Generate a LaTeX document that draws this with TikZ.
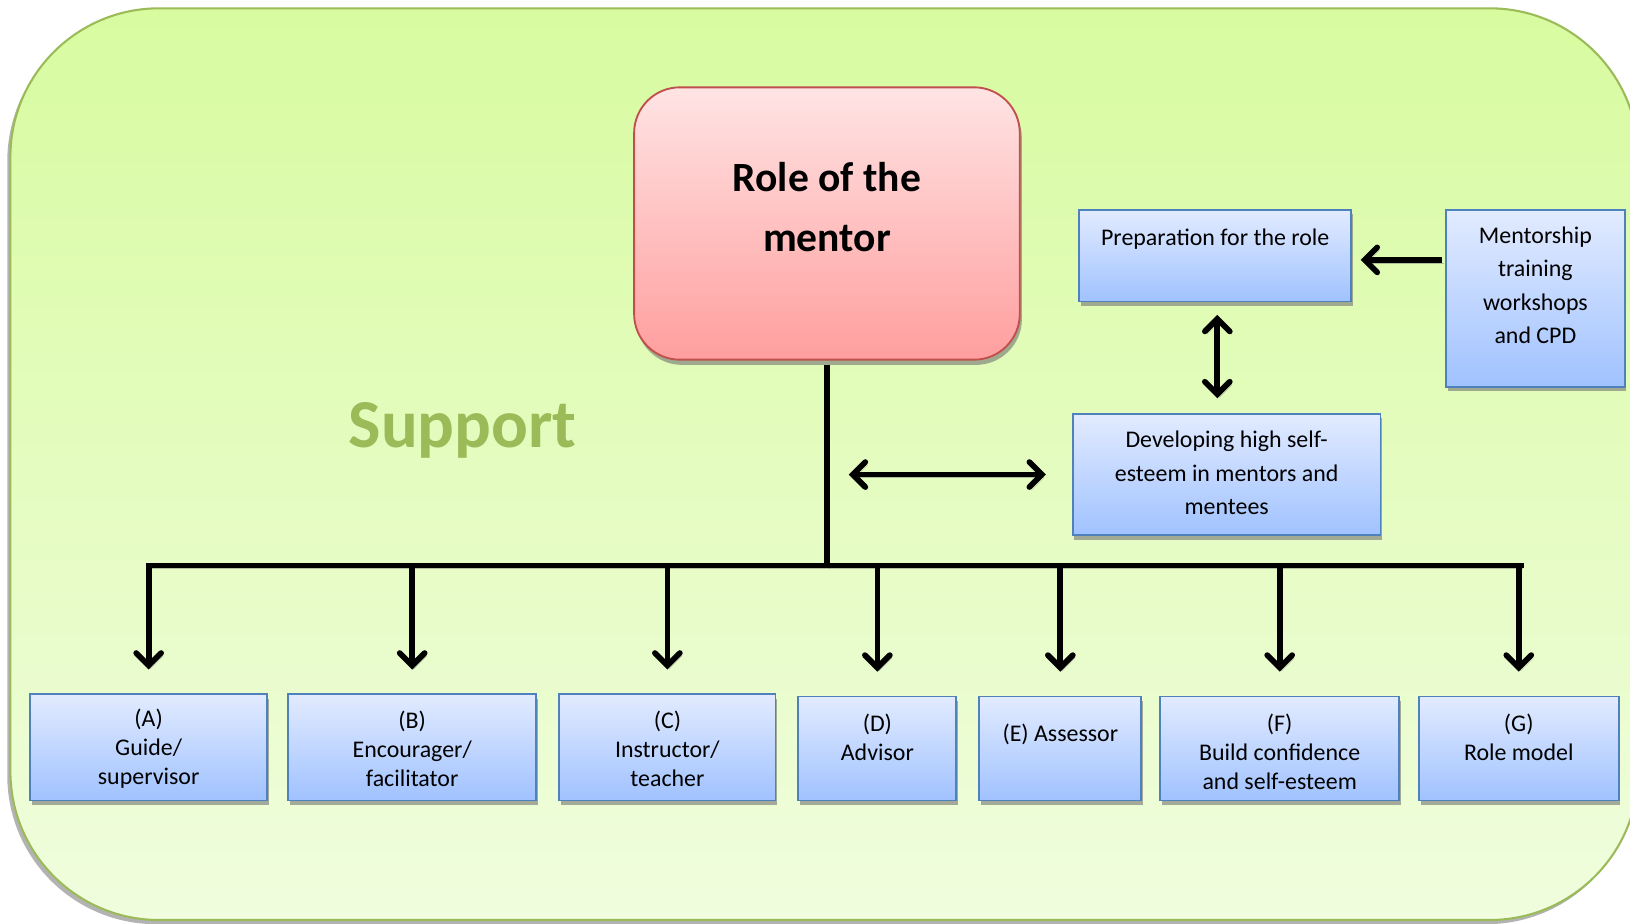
\documentclass[tikz,border=0pt]{standalone}
\usepackage{fontspec}
\setmainfont{Carlito}
\usetikzlibrary{arrows.meta,shadows,calc}
\definecolor{greenTop}{RGB}{216,251,160}
\definecolor{greenBot}{RGB}{240,253,222}
\definecolor{greenLine}{RGB}{155,187,89}
\definecolor{redTop}{RGB}{255,228,228}
\definecolor{redBot}{RGB}{255,158,158}
\definecolor{redLine}{RGB}{192,80,77}
\definecolor{blueTop}{RGB}{226,235,255}
\definecolor{blueBot}{RGB}{160,194,255}
\definecolor{blueLine}{RGB}{79,129,189}
\tikzset{
  bluebox/.style={rectangle, draw=blueLine, line width=1.8pt, top color=blueTop, bottom color=blueBot,
    inner sep=0pt, drop shadow={shadow xshift=1.5pt, shadow yshift=-4pt, fill=black!55, opacity=.6}},
  redbox/.style={rectangle, rounded corners=44pt, draw=redLine, line width=1.8pt, top color=redTop, bottom color=redBot,
    inner sep=0pt, drop shadow={shadow xshift=2pt, shadow yshift=-5pt, fill=black!55, opacity=.6}},
  uptxt/.style={align=center, inner sep=0pt, font=\fontsize{23}{32}\selectfont},
  lowtxt/.style={align=center, inner sep=0pt, font=\fontsize{23}{28}\selectfont},
  conn/.style={line width=5.5pt, draw=black,
    preaction={draw=black!50, opacity=.5, transform canvas={shift={(2pt,-3pt)}}}},
  tip/.tip={Straight Barb[length=12pt,width=24pt, line cap=round]},
  arr/.style={conn, -tip},
  dbl/.style={conn, tip-tip},
}
\begin{document}
\begin{tikzpicture}[x=1pt,y=-1pt]
\useasboundingbox (0,0) rectangle (1568,888);
\clip (0,0) rectangle (1568,888);
% outer background
\path[draw=greenLine, line width=2pt, rounded corners=143pt, top color=greenTop, bottom color=greenBot,
  drop shadow={shadow xshift=-3pt, shadow yshift=-4pt, fill=black!50, opacity=.6}]
  (10,8) rectangle (1576,885);

% main box
\node[redbox, minimum width=371pt, minimum height=262pt] (Role) at (795.5,215) {};
\node[align=center, inner sep=0pt, font=\bfseries\fontsize{40}{58}\selectfont] (RoleT) at (795.5,199) {Role of the\\mentor};

% support label
\node[anchor=base, inner sep=0pt, text=greenLine, font=\bfseries\fontsize{66}{72}\selectfont] (Sup) at (445,430) {Support};

% upper right boxes
\node[bluebox, minimum width=262pt, minimum height=88pt] (Prep) at (1169,246) {};
\node[uptxt] (PrepT) at (1169,230) {Preparation for the role};
\node[bluebox, minimum width=172pt, minimum height=170pt] (Ment) at (1477,287) {};
\node[uptxt] (MentT) at (1477,274.5) {Mentorship\\training\\workshops\\and CPD};
\node[bluebox, minimum width=296pt, minimum height=117pt] (Dev) at (1180,456.5) {};
\node[uptxt] (DevT) at (1180,455) {Developing high self-\\esteem in mentors and\\mentees};

% bottom boxes
\node[bluebox, minimum width=228pt, minimum height=102pt] (A) at (143,719) {};
\node[lowtxt] (AT) at (143,720) {(A)\\Guide/\\supervisor};
\node[bluebox, minimum width=239pt, minimum height=102pt] (B) at (396.5,719) {};
\node[lowtxt] (BT) at (396.5,720) {(B)\\Encourager/\\facilitator};
\node[bluebox, minimum width=208pt, minimum height=102pt] (C) at (642,719) {};
\node[lowtxt] (CT) at (642,720) {(C)\\Instructor/\\teacher};
\node[bluebox, minimum width=152pt, minimum height=100pt] (D) at (844,720) {};
\node[lowtxt] (DT) at (844,709) {(D)\\Advisor};
\node[bluebox, minimum width=156pt, minimum height=100pt] (E) at (1020,720) {};
\node[lowtxt] (ET) at (1020,706) {(E) Assessor};
\node[bluebox, minimum width=230pt, minimum height=100pt] (F) at (1231,720) {};
\node[lowtxt] (FT) at (1231,723) {(F)\\Build confidence\\and self-esteem};
\node[bluebox, minimum width=192pt, minimum height=100pt] (G) at (1461,720) {};
\node[lowtxt] (GT) at (1461,709) {(G)\\Role model};

% connectors
\coordinate (busL) at (143,544);
\coordinate (busR) at (1463,544);
\coordinate (busM) at (Role.south |- busL);
\draw[conn] ([yshift=-4pt]Role.south) -- (busM);
\draw[conn, line cap=rect] (busL) -- (busR);
\foreach \n in {A,B,C,D,E,F,G}{
  \draw[arr, shorten >=23pt] (\n.north |- busL) -- (\n.north);
}
\draw[dbl, shorten <=21pt, shorten >=25pt] (busM |- Dev.west) -- (Dev.west);
\draw[dbl, shorten <=12pt, shorten >=14pt] ([xshift=2pt]Prep.south) -- ([xshift=2pt]Prep.south |- Dev.north);
\draw[arr, shorten <=3pt, shorten >=8pt] (Ment.west |- 0,250) -- (Prep.east |- 0,250);
\end{tikzpicture}
\end{document}
